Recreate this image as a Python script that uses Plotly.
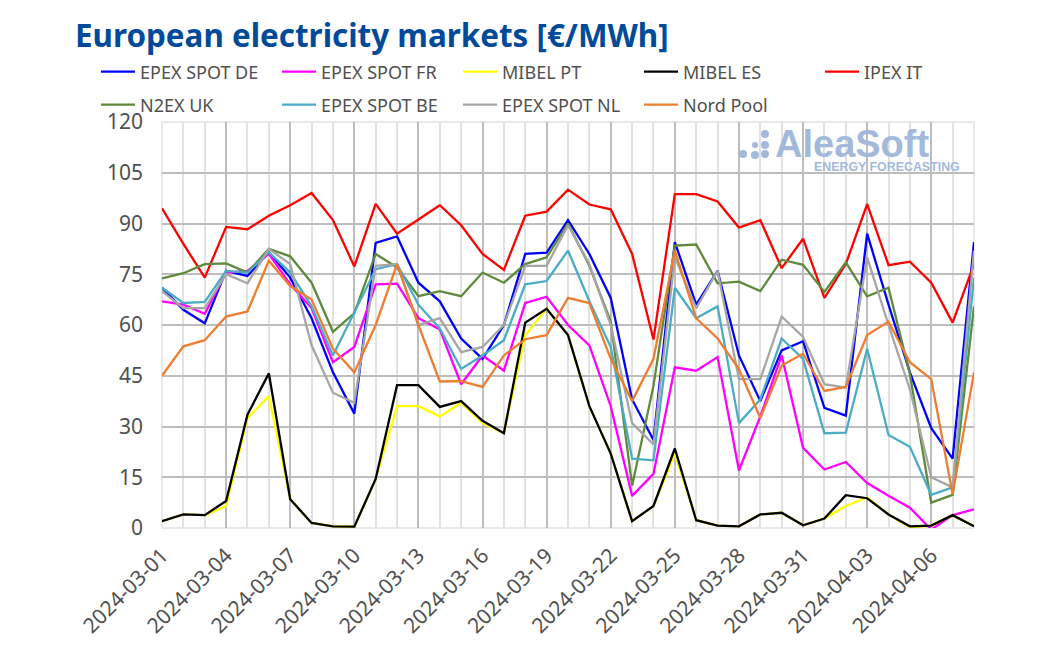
import pandas as pd
import plotly.graph_objects as go

dates = pd.date_range("2024-03-01", "2024-04-08", freq="D")

epex_de = [71, 64.5, 60.5, 76, 74.5, 81.5, 74, 62, 46, 33.8, 84.3, 86.2, 72.5, 67, 56, 50, 60, 81, 81.4, 91, 81, 68, 38, 26, 84.5, 66, 76, 51, 37.5, 52.5, 55.2, 35.5, 33.2, 87, 66, 46, 29.5, 20.5, 84.5]
epex_fr = [67, 66, 63.3, 75.5, 76, 81, 72, 65, 49, 53.5, 72, 72.2, 62, 58.7, 42.5, 51, 46.5, 66.5, 68.3, 60, 54, 36, 9.5, 16, 47.5, 46.5, 50.5, 17, 33, 51, 23.7, 17.3, 19.5, 13.3, 9.5, 6, -0.5, 3.8, 5.5]
mibel_pt = [2, 4, 3.8, 6.5, 32.5, 39, 8.5, 1.5, 0.5, 0.4, 14.5, 36, 36, 33, 37, 31, 28, 57, 64.8, 57, 36, 22, 2, 6.5, 22, 2.3, 0.7, 0.5, 4, 4.5, 0.8, 2.8, 6.5, 9, 4, 0.2, 0.7, 3.8, 0.5]
mibel_es = [2, 4, 3.8, 8, 33.5, 45.7, 8.5, 1.5, 0.5, 0.4, 14.5, 42.2, 42.2, 35.8, 37.5, 31.7, 28, 60.7, 64.8, 57, 36, 22, 2, 6.5, 23.5, 2.3, 0.7, 0.5, 4, 4.5, 0.8, 2.8, 9.7, 8.8, 4, 0.5, 0.7, 3.8, 0.5]
ipex_it = [94.5, 84, 74, 89, 88.3, 92.3, 95.4, 99, 91, 77.3, 95.8, 87, 91.2, 95.4, 89.5, 81, 76.3, 92.3, 93.5, 100, 95.6, 94.2, 81, 55.7, 98.7, 98.7, 96.5, 88.8, 91, 76.8, 85.5, 68, 78, 95.7, 77.7, 78.7, 72.5, 60.7, 78]
n2ex_uk = [73.8, 75.3, 78, 78.2, 75.5, 82.5, 80.3, 72.5, 58, 63.5, 81, 77, 68.5, 70, 68.5, 75.5, 72.5, 78, 80, 90, 77.5, 61, 12.5, 42, 83.5, 83.8, 72.3, 72.8, 70, 79.3, 77.8, 69.8, 78.5, 68.5, 71, 45.5, 7.5, 9.8, 65.5]
epex_be = [71, 66.5, 66.8, 76, 75.5, 81.5, 75.5, 65.5, 51, 64, 76.5, 78, 66, 59, 47, 51, 55.5, 72, 73, 82, 67, 53.5, 20.5, 20, 71, 62, 65.5, 31, 38, 56, 50, 28, 28.2, 53, 27.5, 24, 9.8, 12, 74]
epex_nl = [70, 65, 65, 75, 72.3, 82.5, 78, 54, 40, 37, 77.5, 78, 60, 62, 52, 53.5, 60, 77.5, 77.5, 89.5, 78, 60, 31, 24.7, 80, 65, 76, 44, 44, 62.5, 56.5, 42.5, 41.5, 80, 60, 41, 15, 12, 82]
nord_pool = [45, 53.7, 55.5, 62.5, 64, 79, 71.5, 67.5, 53, 46, 60, 78, 60, 43.3, 43.4, 41.7, 51, 55.8, 57, 68, 66.5, 50, 37.5, 50, 82, 62, 56, 47, 32.5, 48, 51.5, 40.5, 41.7, 57, 61, 49, 44, 10, 46]

series = [
    ("EPEX SPOT DE", epex_de, "#0000ff", "legend"),
    ("EPEX SPOT FR", epex_fr, "#ff00ff", "legend"),
    ("MIBEL PT", mibel_pt, "#ffff00", "legend"),
    ("MIBEL ES", mibel_es, "#000000", "legend"),
    ("IPEX IT", ipex_it, "#ff0000", "legend"),
    ("N2EX UK", n2ex_uk, "#5f8a3c", "legend2"),
    ("EPEX SPOT BE", epex_be, "#4bacc6", "legend2"),
    ("EPEX SPOT NL", epex_nl, "#a6a6a6", "legend2"),
    ("Nord Pool", nord_pool, "#ed7d31", "legend2"),
]

W, H = 1047, 650
FONT = "Noto Sans"
TEXT = "#505050"
DAY = 86400000
# the page body adds 8px on the top and left
L, T, PW, PH = 154, 114, 812, 406


def legend_style(row_y):
    return dict(orientation="h", x=(88 - L) / PW, xanchor="left", y=1 + (T + 8 - row_y) / PH, yanchor="middle",
                font=dict(size=18, color=TEXT),
                entrywidth=132, entrywidthmode="pixels", itemwidth=34,
                bgcolor="rgba(0,0,0,0)")


fig = go.Figure()
for name, values, color, group in series:
    fig.add_trace(go.Scatter(x=dates, y=values, mode="lines", name=name, legend=group,
                             line=dict(color=color, width=2.3, shape="linear")))

fig.update_layout(
    width=W, height=H,
    margin=dict(l=L, r=W - L - PW, t=T, b=H - T - PH, autoexpand=False),
    paper_bgcolor="white", plot_bgcolor="white",
    font=dict(family=FONT, color=TEXT),
    title=dict(text="<b>European electricity markets [€/MWh]</b>",
               x=67 / W, xanchor="left", y=1 - 28 / H, yanchor="middle",
               font=dict(size=31.4, color="#004a99", family=FONT)),
    legend=legend_style(72),
    legend2=legend_style(105),
    showlegend=True,
)

fig.update_xaxes(
    type="date", range=["2024-03-01", "2024-04-08"],
    tick0="2024-03-01", dtick=3 * DAY, tickformat="%Y-%m-%d", tickangle=-45,
    tickfont=dict(size=21, color=TEXT), ticklabelstandoff=10,
    showgrid=True, gridcolor="#bdbdbd", gridwidth=1.5,
    minor=dict(dtick=DAY, tick0="2024-03-01", showgrid=True, gridcolor="#e2e2e2", gridwidth=1.5),
    ticks="", showline=False, zeroline=False,
)
fig.update_yaxes(
    range=[0, 120], tick0=0, dtick=15,
    tickfont=dict(size=21, color=TEXT), ticklabelstandoff=18,
    showgrid=True, gridcolor="#bdbdbd", gridwidth=1.5,
    ticks="", showline=False, zeroline=False,
)

# right and bottom edges of the plot frame
fig.add_shape(type="rect", xref="x domain", yref="y domain", x0=0, x1=1, y0=0, y1=1,
              line=dict(color="#e2e2e2", width=1.5), layer="below")

# AleaSoft watermark
fig.add_annotation(text="<b>AleaSoft</b>", xref="paper", yref="paper", x=(773 - 162) / PW, y=1 - (144 - 122) / PH,
                   xanchor="left", yanchor="middle", showarrow=False,
                   font=dict(size=38, color="#a3b9db", family="Liberation Sans"))
fig.add_annotation(text="<b>ENERGY FORECASTING</b>", xref="paper", yref="paper", x=(812 - 162) / PW, y=1 - (167 - 122) / PH,
                   xanchor="left", yanchor="middle", showarrow=False,
                   font=dict(size=12.4, color="#a3b9db", family="Liberation Sans"))
logo_dots = [(743, 154, 4), (755, 155, 4), (765, 154, 4), (755, 145, 3), (765, 145, 4), (765, 134, 4)]
for cx, cy, r in logo_dots:
    fig.add_shape(type="circle", xref="paper", yref="paper",
                  x0=(cx - r - 162) / PW, x1=(cx + r - 162) / PW,
                  y0=(528 - cy - r) / PH, y1=(528 - cy + r) / PH,
                  fillcolor="#a3b9db", line=dict(width=0))

fig.write_html("out.html")
